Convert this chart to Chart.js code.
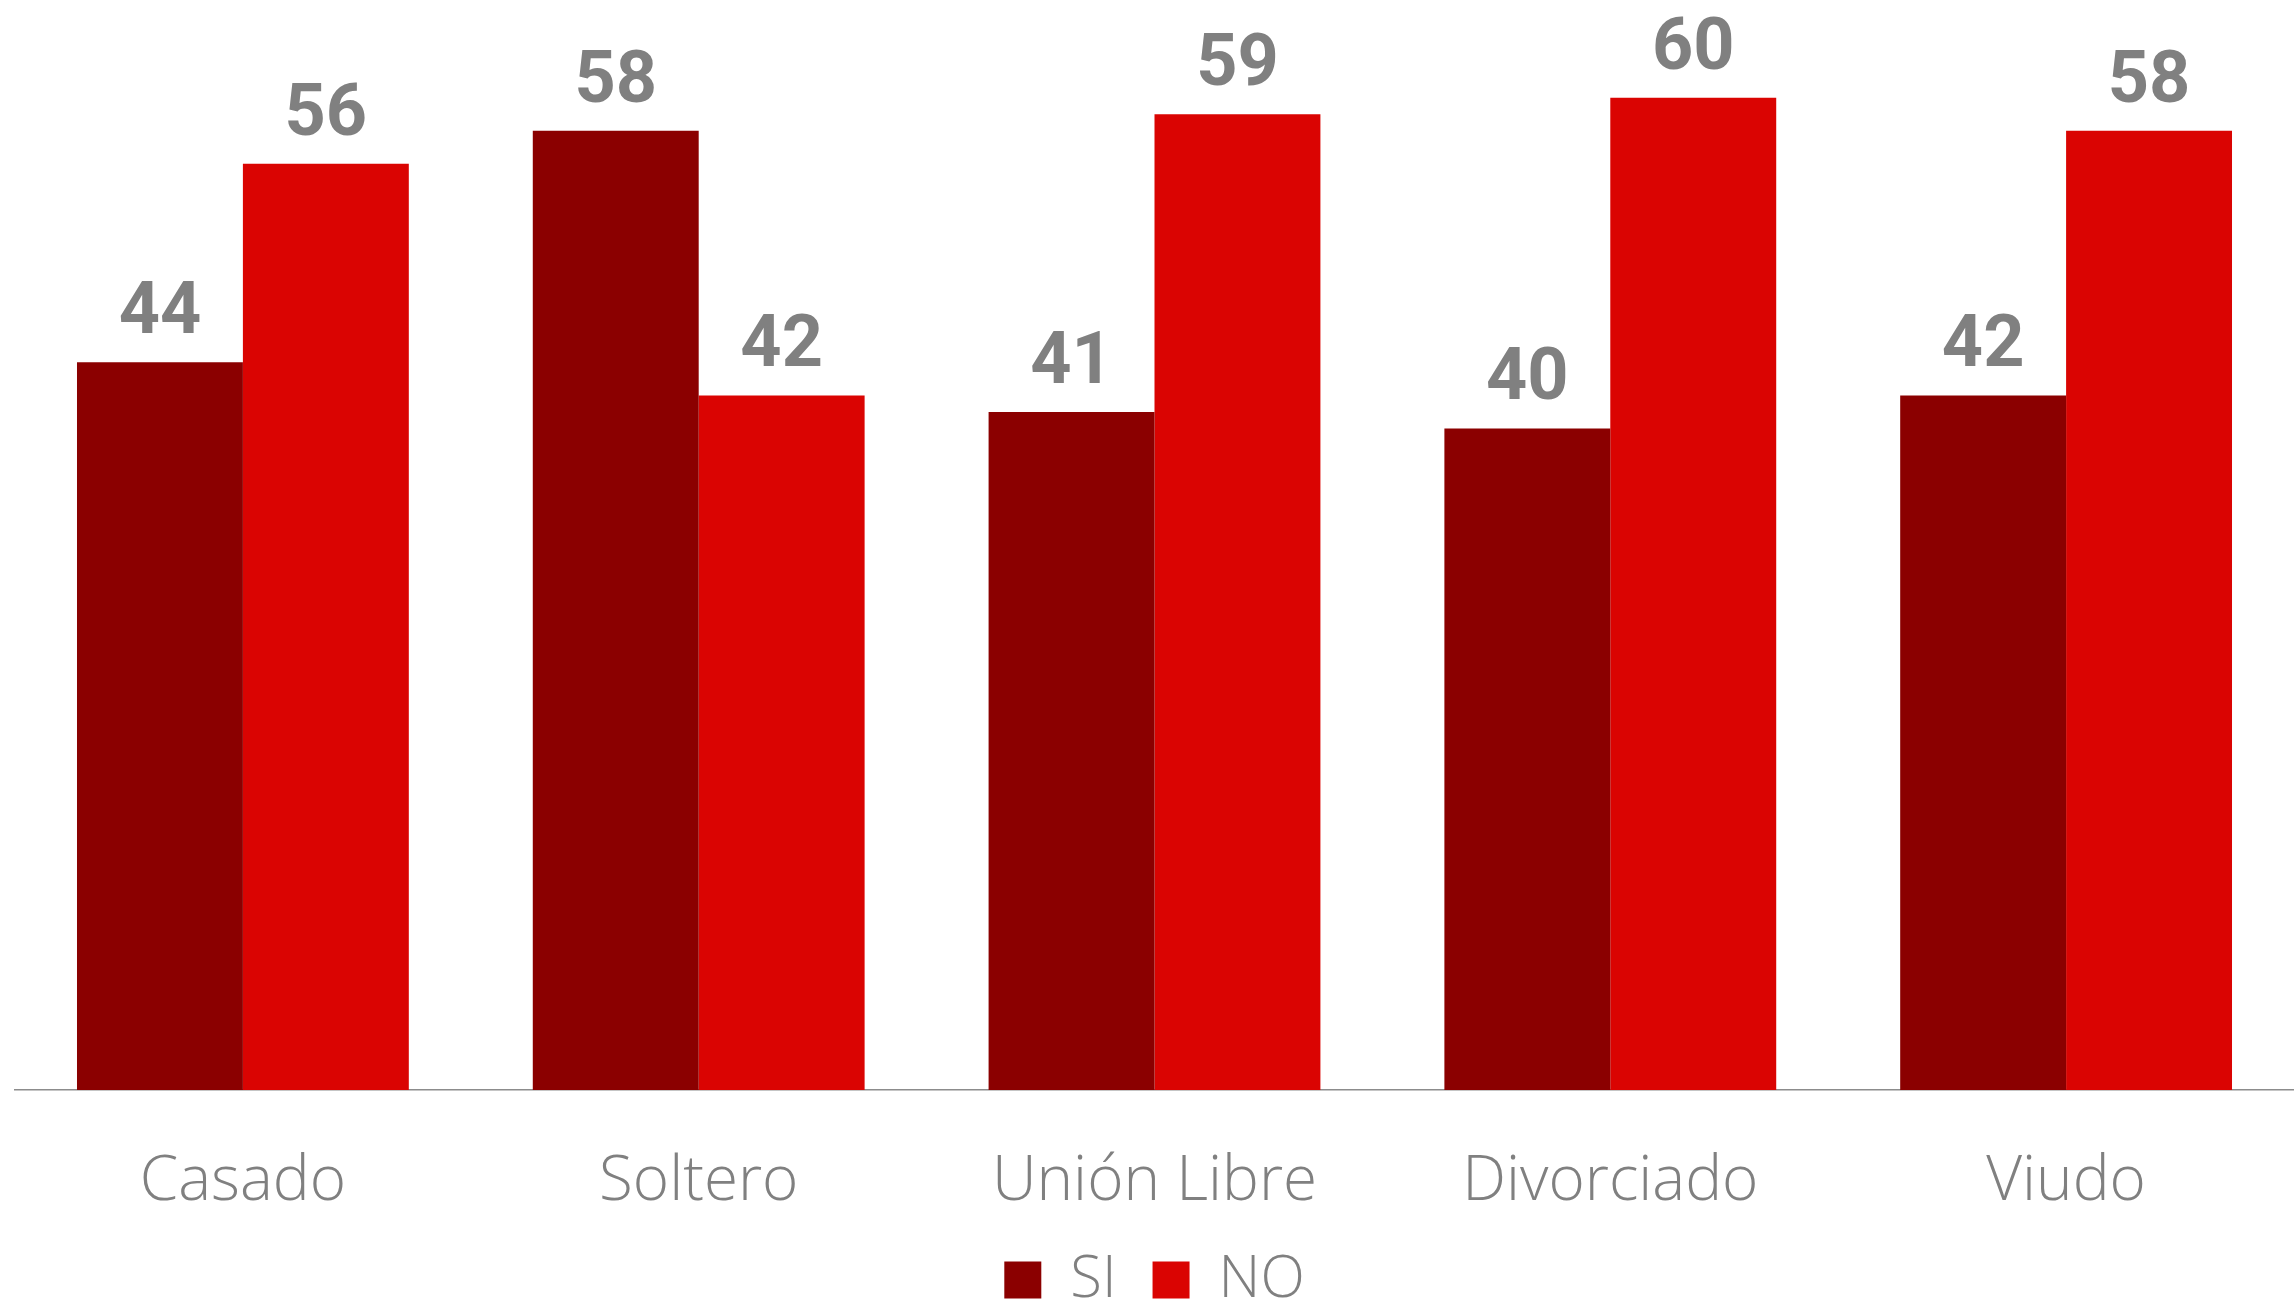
<!DOCTYPE html>
<html>
<head>
<meta charset="utf-8">
<script src="https://cdn.jsdelivr.net/npm/chart.js@4/dist/chart.umd.min.js"></script>
<style>
  html, body { margin: 0; padding: 0; background: #fff; }
  #wrap { width: 2294px; height: 1305px; }
</style>
</head>
<body>
<div id="wrap"><canvas id="estadoCivilChart"></canvas></div>
<script>
// Estado civil: % que responde SI / NO
const categorias = ['Casado', 'Soltero', 'Unión Libre', 'Divorciado', 'Viudo'];
const valoresSi = [44, 58, 41, 40, 42];
const valoresNo = [56, 42, 59, 60, 58];

const GRIS = '#808080';
const FUENTE = "'Open Sans'";

// etiquetas de valor encima de cada barra
const valueLabels = {
    id: 'valueLabels',
    afterDatasetsDraw(chart) {
        const ctx = chart.ctx;
        ctx.save();
        ctx.font = '700 72px Roboto';
        ctx.fillStyle = GRIS;
        ctx.textAlign = 'center';
        ctx.textBaseline = 'alphabetic';
        chart.data.datasets.forEach((ds, i) => {
            chart.getDatasetMeta(i).data.forEach((bar, j) => {
                ctx.fillText(ds.data[j], bar.x, bar.y - 29);
            });
        });
        ctx.restore();
    }
};

new Chart(document.getElementById('estadoCivilChart'), {
    type: 'bar',
    data: {
        labels: categorias,
        datasets: [
            { label: 'SI', data: valoresSi, backgroundColor: '#8b0000' },
            { label: 'NO', data: valoresNo, backgroundColor: '#da0402' }
        ]
    },
    options: {
        responsive: true,
        maintainAspectRatio: false,
        animation: false,
        categoryPercentage: 0.728,
        barPercentage: 1,
        layout: { padding: { left: 15, right: 0, top: 15, bottom: -14 } },
        plugins: {
            tooltip: { enabled: false },
            legend: {
                position: 'bottom',
                labels: {
                    color: GRIS,
                    font: { family: FUENTE, weight: 300, size: 58 },
                    boxWidth: 37,
                    boxHeight: 37,
                    padding: 36
                }
            }
        },
        scales: {
            x: {
                grid: { display: false },
                border: { display: true, color: '#8c8c8c', width: 1.5 },
                ticks: {
                    color: GRIS,
                    padding: 47,
                    font: { family: FUENTE, weight: 300, size: 62 }
                },
                afterFit(scale) { scale.height = 125; }
            },
            y: {
                display: false,
                min: 0,
                max: 65
            }
        }
    },
    plugins: [valueLabels]
});
</script>
</body>
</html>
